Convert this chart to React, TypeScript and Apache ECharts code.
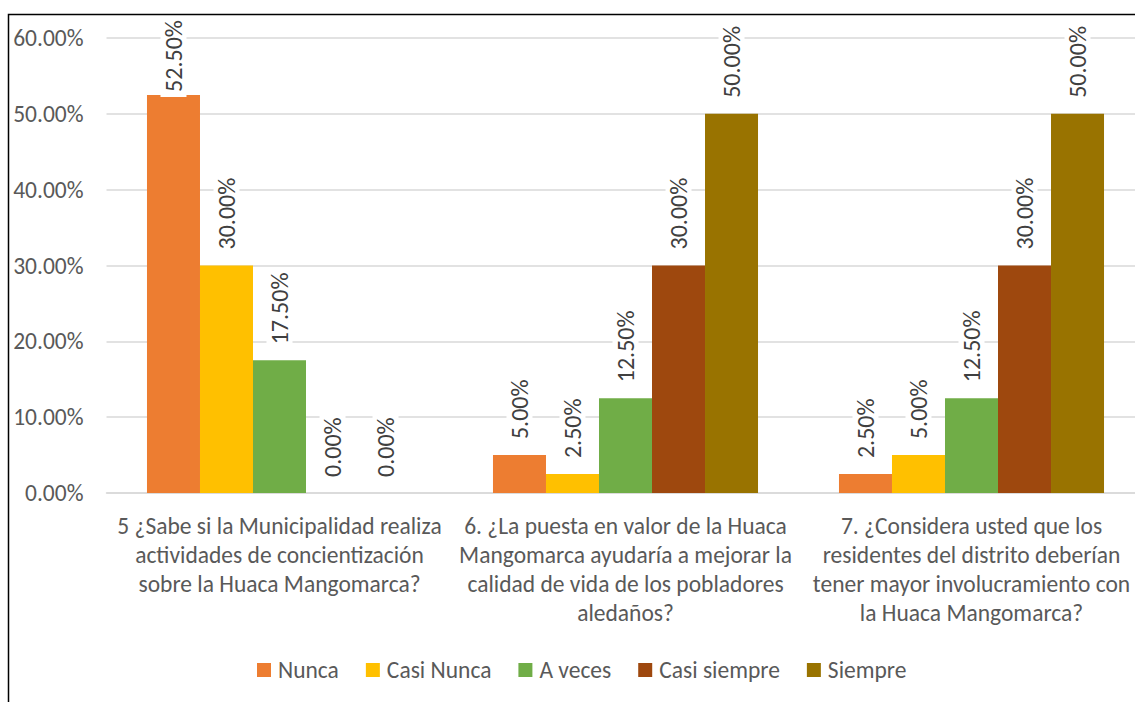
import React, { useEffect, useRef } from "react";
import * as echarts from "echarts";

const categories = [
  "5 ¿Sabe si la Municipalidad realiza\nactividades de concientización\nsobre la Huaca Mangomarca?",
  "6. ¿La puesta en valor de la Huaca\nMangomarca ayudaría a mejorar la\ncalidad de vida de los pobladores\naledaños?",
  "7. ¿Considera usted que los\nresidentes del distrito deberían\ntener mayor involucramiento con\nla Huaca Mangomarca?",
];
const seriesNames = ["Nunca", "Casi Nunca", "A veces", "Casi siempre", "Siempre"];
const nunca = [0.525, 0.05, 0.025];
const casiNunca = [0.3, 0.025, 0.05];
const aVeces = [0.175, 0.125, 0.125];
const casiSiempre = [0, 0.3, 0.3];
const siempre = [0, 0.5, 0.5];
const seriesValues = [nunca, casiNunca, aVeces, casiSiempre, siempre];
const colors = ["#ED7D31", "#FFC000", "#70AD47", "#9E480E", "#997300"];

const FONT = "Carlito, Lato, 'Noto Sans', sans-serif";

export default function App() {
  const ref = useRef<HTMLDivElement>(null);
  useEffect(() => {
    document.documentElement.style.overflow = "hidden";
    document.body.style.overflow = "hidden";
    const chart = echarts.init(ref.current!, undefined, { renderer: "svg" });
    chart.setOption({
      animation: false,
      textStyle: { fontFamily: FONT },
      graphic: [
        {
          type: "rect",
          shape: { x: 8.5, y: 14.5, width: 3000, height: 3000 },
          style: { fill: "none", stroke: "#000", lineWidth: 1.5 },
          silent: true,
          z: 100,
        },
      ],
      grid: { left: 106.5, top: 38, width: 1038, height: 455, containLabel: false },
      legend: {
        top: 653,
        left: 252,
        icon: "rect",
        itemWidth: 14,
        itemHeight: 14,
        itemGap: 27,
        itemStyle: { borderWidth: 0 },
        textStyle: { fontSize: 23.5, color: "#595959", fontFamily: FONT, padding: [0, 0, 0, 2] },
        data: seriesNames,
      },
      xAxis: {
        type: "category",
        data: categories,
        axisLine: { show: true, lineStyle: { color: "#d9d9d9", width: 1.5 } },
        axisTick: { show: false },
        axisLabel: {
          interval: 0,
          fontSize: 23.5,
          color: "#595959",
          lineHeight: 29,
          margin: 18,
          align: "center",
          fontFamily: FONT,
        },
      },
      yAxis: {
        type: "value",
        min: 0,
        max: 0.6,
        interval: 0.1,
        axisLine: { show: false },
        axisTick: { show: false },
        splitLine: { lineStyle: { color: "#d9d9d9", width: 1.5 } },
        axisLabel: {
          fontSize: 23.5,
          color: "#595959",
          margin: 23,
          fontFamily: FONT,
          formatter: (v: number) => (v * 100).toFixed(2) + "%",
        },
      },
      series: seriesNames.map((name, i) => ({
        name,
        type: "bar",
        data: seriesValues[i].map((v) =>
          v > 0.52 ? { value: v, label: { distance: -2 } } : { value: v }
        ),
        barGap: "0%",
        barCategoryGap: "23.4%",
        itemStyle: { color: colors[i] },
        label: {
          show: true,
          position: "top",
          rotate: 90,
          align: "left",
          verticalAlign: "middle",
          distance: 11,
          fontSize: 24,
          color: "#404040",
          fontFamily: FONT,
          backgroundColor: "#ffffff",
          padding: [1, 5, 1, 5],
          formatter: (p: any) => (p.value * 100).toFixed(2) + "%",
        },
      })),
    });
    return () => chart.dispose();
  }, []);
  return (
    <div
      ref={ref}
      style={{ position: "absolute", left: 0, top: 0, width: 1150, height: 702 }}
    />
  );
}
